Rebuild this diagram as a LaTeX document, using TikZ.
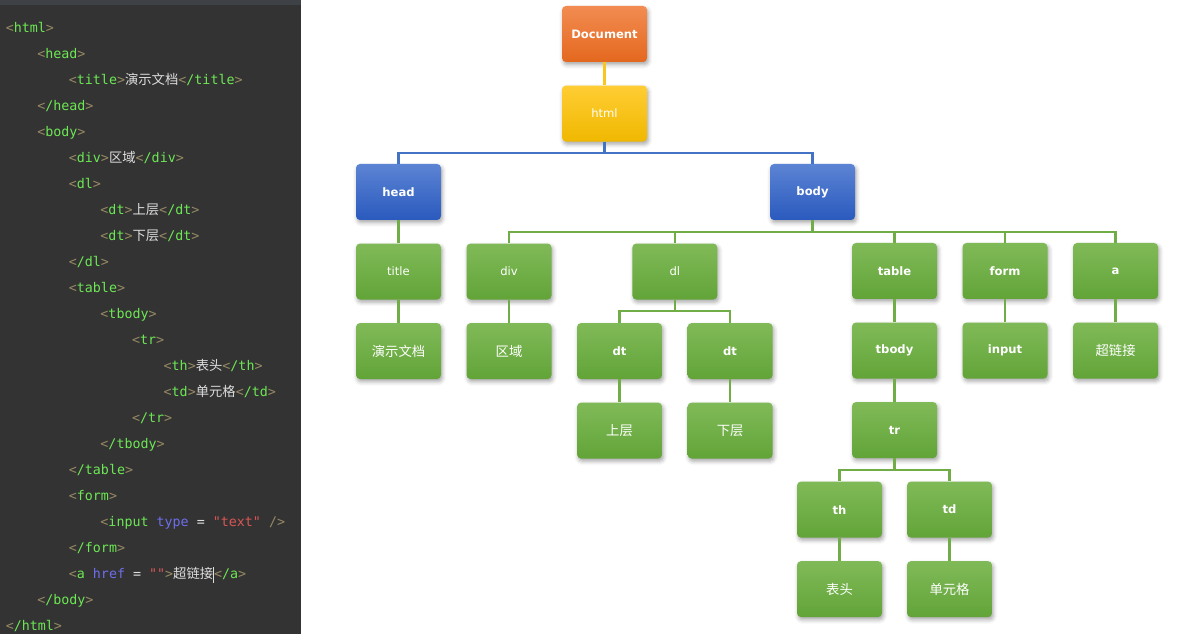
\documentclass[tikz,border=0pt]{standalone}
\usepackage{fontspec}
\setmainfont{DejaVu Sans}
\newfontfamily\codefont{DejaVu Sans Mono}
\newfontfamily\cjk{Noto Sans CJK SC}
\usepackage{tikz}
\usetikzlibrary{positioning, calc, shadows.blur}

\definecolor{codebg}{RGB}{51,51,51}
\definecolor{codetop}{RGB}{62,65,69}
\definecolor{codetag}{RGB}{108,232,84}
\definecolor{codebrk}{RGB}{150,138,100}
\definecolor{codeattr}{RGB}{110,110,236}
\definecolor{codestr}{RGB}{218,86,86}
\definecolor{codetxt}{RGB}{222,222,222}
\definecolor{orangetop}{RGB}{242,140,82}
\definecolor{orangebot}{RGB}{228,104,30}
\definecolor{yellowtop}{RGB}{255,205,52}
\definecolor{yellowbot}{RGB}{240,184,0}
\definecolor{bluetop}{RGB}{92,132,212}
\definecolor{bluebot}{RGB}{42,90,190}
\definecolor{greentop}{RGB}{128,186,88}
\definecolor{greenbot}{RGB}{98,164,56}
\definecolor{yline}{RGB}{250,198,30}
\definecolor{bline}{RGB}{68,114,196}
\definecolor{gline}{RGB}{112,173,71}

\newcommand\otag[1]{\textcolor{codebrk}{<}\textcolor{codetag}{#1}\textcolor{codebrk}{>}}
\newcommand\ctag[1]{\textcolor{codebrk}{<}\textcolor{codetag}{/#1}\textcolor{codebrk}{>}}
\newcommand\cntxt[1]{\textcolor{codetxt}{\cjk #1}}

\begin{document}
\begin{tikzpicture}[x=0.75pt, y=-0.75pt, node distance=17.25pt and 18.75pt,
        box/.style={rectangle, rounded corners=3pt, minimum width=63.75pt, minimum height=42pt,
            inner sep=0pt, text=white, font=\fontsize{8.7}{10}\selectfont,
            blur shadow={shadow xshift=1pt, shadow yshift=-2pt, shadow blur radius=3pt, shadow opacity=35}},
        orangebox/.style={box, top color=orangetop, bottom color=orangebot},
        yellowbox/.style={box, top color=yellowtop, bottom color=yellowbot},
        bluebox/.style={box, top color=bluetop, bottom color=bluebot},
        greenbox/.style={box, top color=greentop, bottom color=greenbot},
        heavy/.style={font=\fontsize{8.7}{10}\selectfont\bfseries},
        cn/.style={font=\cjk\fontsize{10}{11}\selectfont},
        codeline/.style={anchor=base west, inner sep=0pt, text=codetxt, font=\codefont\fontsize{10}{12}\selectfont},
        link/.style={draw, line width=1.7pt}]
    \useasboundingbox (0,0) rectangle (1187,634);

    % code panel
    \fill [codebg] (0,0) rectangle (301,634);
    \fill [codetop] (0,0) rectangle (301,5);
    \node [codeline] (l1) at (5.5,32.5) {\otag{html}};
    \node [codeline] (l2) at (37,58.5) {\otag{head}};
    \node [codeline] (l3) at (68.6,84.5) {\otag{title}\cntxt{演示文档}\ctag{title}};
    \node [codeline] (l4) at (37,110.5) {\ctag{head}};
    \node [codeline] (l5) at (37,136.5) {\otag{body}};
    \node [codeline] (l6) at (68.6,162.5) {\otag{div}\cntxt{区域}\ctag{div}};
    \node [codeline] (l7) at (68.6,188.5) {\otag{dl}};
    \node [codeline] (l8) at (100.2,214.5) {\otag{dt}\cntxt{上层}\ctag{dt}};
    \node [codeline] (l9) at (100.2,240.5) {\otag{dt}\cntxt{下层}\ctag{dt}};
    \node [codeline] (l10) at (68.6,266.5) {\ctag{dl}};
    \node [codeline] (l11) at (68.6,292.5) {\otag{table}};
    \node [codeline] (l12) at (100.2,318.5) {\otag{tbody}};
    \node [codeline] (l13) at (131.8,344.5) {\otag{tr}};
    \node [codeline] (l14) at (163.4,370.5) {\otag{th}\cntxt{表头}\ctag{th}};
    \node [codeline] (l15) at (163.4,396.5) {\otag{td}\cntxt{单元格}\ctag{td}};
    \node [codeline] (l16) at (131.8,422.5) {\ctag{tr}};
    \node [codeline] (l17) at (100.2,448.5) {\ctag{tbody}};
    \node [codeline] (l18) at (68.6,474.5) {\ctag{table}};
    \node [codeline] (l19) at (68.6,500.5) {\otag{form}};
    \node [codeline] (l20) at (100.2,526.5) {\textcolor{codebrk}{<}\textcolor{codetag}{input} \textcolor{codeattr}{type} = \textcolor{codestr}{"text"} \textcolor{codebrk}{/>}};
    \node [codeline] (l21) at (68.6,552.5) {\ctag{form}};
    \node [codeline] (l22) at (68.6,578.5) {\textcolor{codebrk}{<}\textcolor{codetag}{a} \textcolor{codeattr}{href} = \textcolor{codestr}{""}\textcolor{codebrk}{>}\cntxt{超链接}\textcolor{codetxt}{\rule[-3pt]{0.6pt}{12pt}}\ctag{a}};
    \node [codeline] (l23) at (37,604.5) {\ctag{body}};
    \node [codeline] (l24) at (5.5,630.5) {\ctag{html}};

    % tree
    \node [orangebox, heavy] (document) at (604.5,34) {Document};
    \node [yellowbox, below=of document] (html) {html};
    \node [bluebox, heavy] (head) at (398.5,192) {head};
    \node [bluebox, heavy] (body) at (812.5,192) {body};
    \node [greenbox, below=of head] (title) {title};
    \node [greenbox, right=of title] (div) {div};
    \node [greenbox, cn, below=of title] (demo) {演示文档};
    \node [greenbox, cn, below=of div] (area) {区域};
    \node [greenbox, heavy, right=of area] (dt1) {dt};
    \node [greenbox, heavy, right=of dt1] (dt2) {dt};
    \coordinate (dlmid) at ($(dt1.north)!0.5!(dt2.north)$);
    \node [greenbox, above=of dlmid] (dl) {dl};
    \node [greenbox, cn, below=of dt1] (upper) {上层};
    \node [greenbox, cn, below=of dt2] (lower) {下层};
    \node [greenbox, heavy] (table) at (894.5,271) {table};
    \node [greenbox, heavy, right=of table] (form) {form};
    \node [greenbox, heavy, right=of form] (a) {a};
    \node [greenbox, heavy, below=of table] (tbody) {tbody};
    \node [greenbox, heavy, below=of form] (input) {input};
    \node [greenbox, cn, below=of a] (hyper) {超链接};
    \node [greenbox, heavy, below=of tbody] (tr) {tr};
    \node [greenbox, heavy, below=of tr, xshift=-41.25pt] (th) {th};
    \node [greenbox, heavy, below=of tr, xshift=41.25pt] (td) {td};
    \node [greenbox, cn, below=of th] (header) {表头};
    \node [greenbox, cn, below=of td] (cell) {单元格};

    % connectors
    \path [link, yline] (document) -- (html);
    \path [link, bline] (html.south) -- ++(0,-8.6pt) -| (head.north);
    \path [link, bline] (html.south) -- ++(0,-8.6pt) -| (body.north);
    \path [link, gline] (body.south) -- ++(0,-8.6pt) -| (div.north);
    \path [link, gline] (body.south) -- ++(0,-8.6pt) -| (dl.north);
    \path [link, gline] (body.south) -- ++(0,-8.6pt) -| (table.north);
    \path [link, gline] (body.south) -- ++(0,-8.6pt) -| (form.north);
    \path [link, gline] (body.south) -- ++(0,-8.6pt) -| (a.north);
    \path [link, gline] (head) -- (title);
    \path [link, gline] (title) -- (demo);
    \path [link, gline] (div) -- (area);
    \path [link, gline] (dl.south) -- ++(0,-8.6pt) -| (dt1.north);
    \path [link, gline] (dl.south) -- ++(0,-8.6pt) -| (dt2.north);
    \path [link, gline] (dt1) -- (upper);
    \path [link, gline] (dt2) -- (lower);
    \path [link, gline] (table) -- (tbody);
    \path [link, gline] (tbody) -- (tr);
    \path [link, gline] (tr.south) -- ++(0,-8.6pt) -| (th.north);
    \path [link, gline] (tr.south) -- ++(0,-8.6pt) -| (td.north);
    \path [link, gline] (th) -- (header);
    \path [link, gline] (td) -- (cell);
    \path [link, gline] (form) -- (input);
    \path [link, gline] (a) -- (hyper);
\end{tikzpicture}
\end{document}
